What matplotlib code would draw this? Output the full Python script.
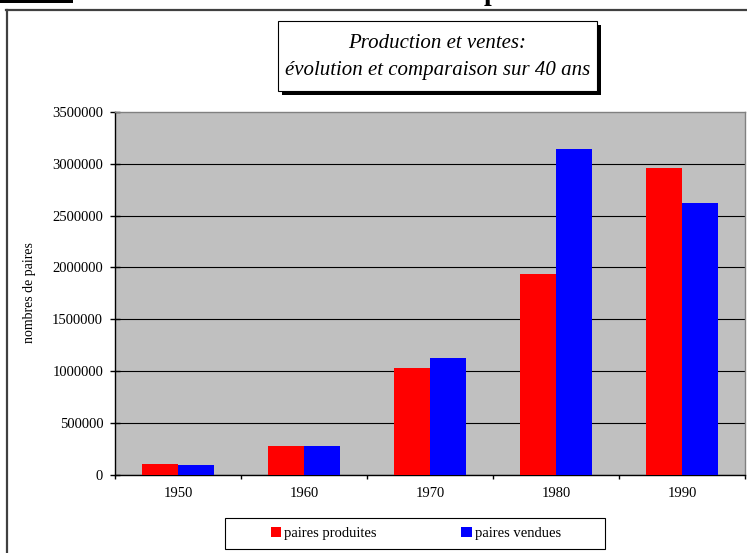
import numpy as np
import matplotlib
matplotlib.use('Agg')
import matplotlib.pyplot as plt
from matplotlib.patches import Rectangle, Patch
from matplotlib.lines import Line2D
from matplotlib.ticker import FuncFormatter

# Données
annees = ['1950', '1960', '1970', '1980', '1990']
produites = [105000, 280000, 1025000, 1938000, 2955000]
vendues = [90000, 280000, 1128000, 3144000, 2626000]
series = ['paires produites', 'paires vendues']
couleurs = ['#FF0000', '#0000FF']
y_ticks = np.arange(0, 3500001, 500000)

plt.rcParams['font.family'] = ['Liberation Serif', 'DejaVu Serif']

W, H = 747, 553

def fx(x):
    return x / W

def fy(y):
    return 1 - y / H

fig = plt.figure(figsize=(W / 100, H / 100), dpi=100)
fig.patch.set_facecolor('white')

# Zone de tracé
ax = fig.add_axes([fx(115), fy(474.5), (745 - 115) / W, (474.5 - 112) / H])
ax.set_facecolor('#C0C0C0')

x = np.arange(len(annees))
w = 1 / 3.5
ax.bar(x - w / 2, produites, w, color=couleurs[0], linewidth=0, zorder=3)
ax.bar(x + w / 2, vendues, w, color=couleurs[1], linewidth=0, zorder=3)

ax.set_xlim(-0.5, len(annees) - 0.5)
ax.set_ylim(0, 3500000)

# Axe x : graduations entre les catégories, étiquettes au centre
ax.set_xticks(np.arange(-0.5, len(annees), 1))
ax.set_xticklabels([])
ax.set_xticks(x, minor=True)
ax.set_xticklabels(annees, minor=True)
ax.tick_params(axis='x', which='major', direction='out', length=3, width=1, color='black')
ax.tick_params(axis='x', which='minor', length=0, pad=9, labelsize=10.5)

# Axe y
ax.set_yticks(y_ticks)
ax.yaxis.set_major_formatter(FuncFormatter(lambda v, p: f'{int(v)}'))
ax.tick_params(axis='y', direction='inout', length=7, width=1, color='black',
               pad=5, labelsize=10.5)

ax.yaxis.grid(True, color='#000000', linewidth=0.8, zorder=1)
ax.set_axisbelow(True)
ax.get_ygridlines()[-1].set_visible(False)

for s in ['left', 'bottom']:
    ax.spines[s].set_color('black')
    ax.spines[s].set_linewidth(1)
for s in ['top', 'right']:
    ax.spines[s].set_color('#808080')
    ax.spines[s].set_linewidth(1)

fig.text(fx(30), fy(293), 'nombres de paires', rotation=90, ha='center', va='center',
         fontsize=10)

# Cadre extérieur et fragments du haut de page
fig.add_artist(Line2D([fx(7), fx(7)], [fy(10), fy(560)], color='#404040', lw=1.6))
fig.add_artist(Line2D([fx(6), fx(760)], [fy(10), fy(10)], color='#404040', lw=1.6))
fig.add_artist(Rectangle((0, fy(3)), 73 / W, 3 / H, transform=fig.transFigure,
                         facecolor='black', edgecolor='none'))
fig.text(fx(491), fy(0), 'p', ha='center', va='baseline', fontsize=20, fontweight='bold')

# Titre encadré avec ombre
bx0, by0, bx1, by1 = 278, 21, 597, 91
fig.add_artist(Rectangle((fx(bx0 + 4), fy(by1 + 4)), (bx1 - bx0) / W, (by1 - by0) / H,
                         transform=fig.transFigure, facecolor='black', edgecolor='none'))
fig.add_artist(Rectangle((fx(bx0), fy(by1)), (bx1 - bx0) / W, (by1 - by0) / H,
                         transform=fig.transFigure, facecolor='white', edgecolor='black', lw=0.8))
fig.text(fx(437.5), fy(43), 'Production et ventes:', ha='center', va='center',
         fontsize=15, style='italic')
fig.text(fx(437.5), fy(70), 'évolution et comparaison sur 40 ans', ha='center', va='center',
         fontsize=15, style='italic')

# Légende
fig.add_artist(Rectangle((fx(225), fy(549)), (605 - 225) / W, (549 - 518) / H,
                         transform=fig.transFigure, facecolor='white', edgecolor='black', lw=0.8))
handles = [Patch(facecolor=c, edgecolor='none') for c in couleurs]
fig.legend(handles, series, loc='center', bbox_to_anchor=(fx(416), fy(533.5)), ncol=2,
           frameon=False, handlelength=0.75, handleheight=0.75, handletextpad=0.2,
           columnspacing=5.8, fontsize=10.5)

fig.savefig('out.png', dpi=100)
